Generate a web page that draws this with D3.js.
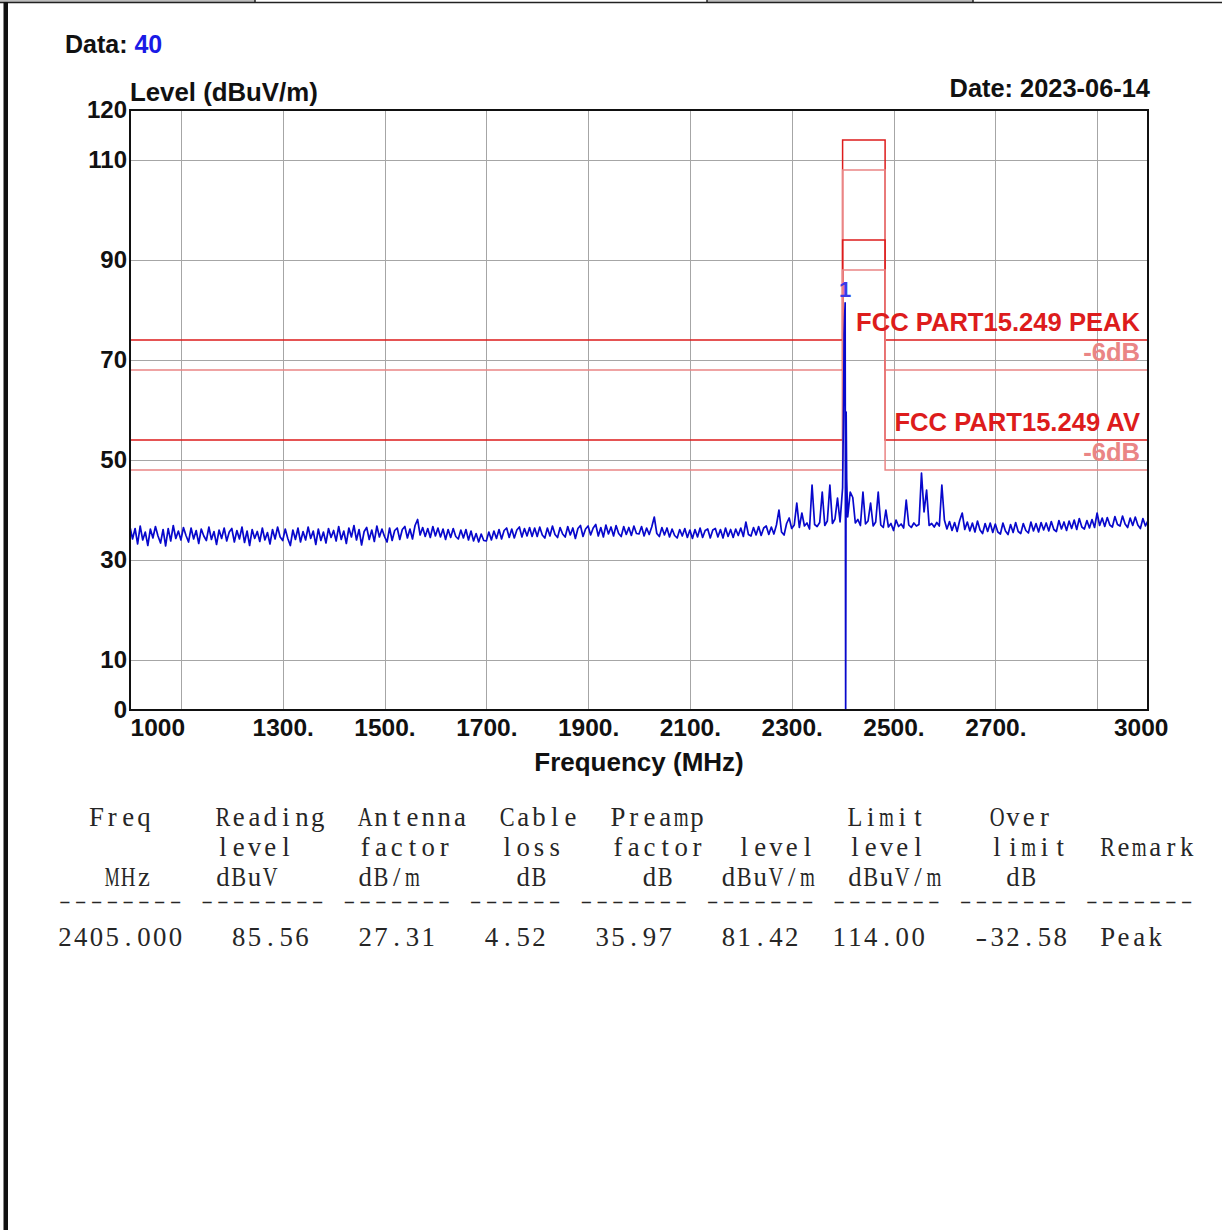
<!DOCTYPE html>
<html>
<head>
<meta charset="utf-8">
<script src="https://cdn.jsdelivr.net/npm/d3@7"></script>
<style>
  html, body { margin: 0; padding: 0; background: #fff; }
  svg { display: block; }
</style>
</head>
<body>
<svg id="chart" width="1222" height="1230"></svg>
<script>
// ---- Sweep data: 1000-3000 MHz, 5 MHz step, level in dBuV/m ----
const sweepStartMHz = 1000;
const sweepStepMHz = 5;
const traceLevels = [
  // 1000
  36.6, 34.2, 36.3, 33.2, 36.8, 34.0, 35.6, 32.9, 36.2, 34.4, 36.7, 34.8, 33.4, 36.1, 32.8, 36.3, 33.8, 36.9, 34.3, 35.8,
  // 1100
  34.0, 36.5, 34.9, 33.6, 36.4, 34.2, 35.9, 33.3, 36.2, 34.8, 33.9, 36.6, 34.1, 35.7, 33.1, 36.0, 34.3, 36.4, 33.8, 35.6,
  // 1200
  36.3, 33.6, 35.9, 34.2, 36.6, 33.5, 35.8, 32.9, 36.1, 34.3, 35.7, 33.7, 36.4, 34.0, 35.5, 33.2, 36.1, 34.2, 36.6, 34.6,
  // 1300
  33.9, 36.2, 34.3, 32.9, 36.0, 34.1, 36.4, 33.6, 35.7, 34.0, 36.6, 34.3, 35.8, 33.1, 36.2, 33.9, 35.6, 33.4, 36.3, 34.5,
  // 1400
  35.9, 33.8, 36.7, 34.1, 35.8, 33.3, 36.4, 34.6, 36.9, 34.0, 36.1, 33.0, 35.7, 36.5, 34.1, 36.0, 33.7, 36.8, 34.6, 36.2,
  // 1500
  34.7, 33.6, 36.4, 33.9, 35.9, 36.4, 34.1, 36.1, 36.7, 34.4, 36.2, 34.2, 36.9, 38.1, 35.0, 36.5, 34.7, 36.3, 34.5, 36.7,
  // 1600
  34.8, 36.4, 34.6, 36.2, 34.1, 36.1, 34.5, 36.3, 34.7, 34.2, 36.0, 34.4, 36.1, 34.0, 35.8, 33.8, 35.3, 33.6, 35.2, 33.9,
  // 1700
  33.8, 35.6, 34.0, 35.8, 34.3, 36.1, 34.2, 35.9, 36.4, 34.5, 36.2, 34.4, 36.0, 36.6, 34.6, 36.3, 34.8, 36.5, 34.7, 36.4,
  // 1800
  34.7, 36.6, 35.0, 34.4, 36.4, 34.8, 36.8, 35.1, 34.5, 36.5, 35.2, 34.6, 36.7, 35.0, 36.4, 34.3, 36.3, 36.9, 34.7, 36.2,
  // 1900
  36.8, 35.0, 36.4, 37.1, 34.8, 36.5, 34.6, 37.0, 35.2, 36.6, 34.8, 36.9, 35.3, 34.7, 36.7, 35.1, 36.5, 34.9, 36.8, 35.3,
  // 2000
  35.2, 36.7, 34.8, 36.4, 35.1, 36.6, 38.6, 35.3, 34.7, 36.5, 35.0, 36.4, 34.6, 36.2, 34.9, 34.4, 36.1, 34.8, 36.3, 34.5,
  // 2100
  36.0, 34.3, 36.1, 34.6, 36.4, 34.5, 35.9, 36.2, 34.4, 36.0, 36.3, 34.6, 36.1, 34.4, 36.4, 34.7, 36.1, 34.5, 36.2, 34.9,
  // 2200
  36.4, 34.7, 37.6, 35.1, 34.8, 36.5, 35.0, 36.7, 34.9, 36.4, 36.8, 35.1, 36.6, 35.2, 37.0, 40.0, 35.6, 35.0, 37.3, 38.4,
  // 2300
  36.3, 37.0, 41.4, 36.5, 39.4, 36.8, 37.4, 36.2, 45.0, 37.1, 36.7, 37.5, 43.6, 36.9, 37.8, 45.0, 37.3, 38.2, 42.4, 37.6,
  // 2400
  44.4, 81.42, 38.6, 43.6, 42.5, 37.4, 38.1, 36.9, 43.6, 37.2, 37.8, 41.4, 36.8, 37.6, 43.6, 37.0, 36.5, 40.0, 36.6, 37.3,
  // 2500
  35.9, 38.0, 36.7, 37.2, 36.4, 42.0, 37.0, 36.5, 37.4, 36.8, 37.1, 47.4, 39.6, 44.0, 36.9, 37.3, 36.6, 37.5, 36.8, 45.0,
  // 2600
  38.0, 36.2, 37.7, 35.9, 37.5, 35.7, 37.9, 39.4, 36.1, 37.6, 35.8, 37.4, 35.6, 37.8, 36.0, 35.3, 37.3, 35.7, 37.4, 35.5,
  // 2700
  37.2, 35.6, 35.2, 37.4, 35.8, 35.1, 37.1, 35.5, 37.5, 35.7, 35.3, 37.3, 35.9, 35.4, 37.6, 35.8, 37.3, 35.6, 37.5, 36.0,
  // 2800
  37.4, 35.8, 37.7, 36.1, 35.7, 37.9, 36.2, 37.6, 35.9, 37.8, 36.3, 38.0, 36.1, 38.3, 36.6, 36.2, 37.9, 36.4, 38.1, 36.5,
  // 2900 .. 3000
  39.4, 36.9, 38.4, 36.7, 38.5, 37.0, 36.6, 38.7, 37.1, 36.8, 38.8, 37.2, 36.5, 38.4, 36.9, 38.6, 37.0, 36.3, 38.3, 36.8, 37.9
];
// finer samples around the carrier [MHz, dBuV/m]
const carrierDetail = [[2402, 62.0], [2403, 75.2], [2404, 78.6], [2406, 0], [2407, 59.6], [2408, 46.2]];

// marker 1
const markerFreq = 2405.000;
const markerLevel = 81.42;

// ---- Axes ----
const freqDomain = [1000, 3000];
const levelDomain = [0, 120];
const yTickValues = [0, 10, 30, 50, 70, 90, 110, 120];
const yGridValues = [10, 30, 50, 70, 90, 110];
const xTickValues = [1000, 1300, 1500, 1700, 1900, 2100, 2300, 2500, 2700, 3000];
const xGridValues = [1100, 1300, 1500, 1700, 1900, 2100, 2300, 2500, 2700, 2900];

// ---- Limit lines (restricted band 2400-2483.5 MHz) ----
const bandEdges = [2400, 2483.5];
const limitNames = ["FCC PART15.249 PEAK", "-6dB", "FCC PART15.249 AV", "-6dB"];
const limitOutside = [74, 68, 54, 48];
const limitInside = [114, 108, 94, 88];
const limitIsMargin = [false, true, false, true];

// ---- Header texts ----
const dataLabel = "Data:";
const dataNumber = "40";
const yTitle = "Level (dBuV/m)";
const xTitle = "Frequency (MHz)";
const dateLabel = "Date: 2023-06-14";

// ---- Result table ----
const headerRow1 = ["Freq", "Reading", "Antenna", "Cable", "Preamp", "Limit", "Over"];
const headerRow2 = ["level", "factor", "loss", "factor", "level", "level", "limit", "Remark"];
const headerRow3 = ["MHz", "dBuV", "dB/m", "dB", "dB", "dBuV/m", "dBuV/m", "dB"];
const resultRow = ["2405.000", "85.56", "27.31", "4.52", "35.97", "81.42", "114.00", "-32.58", "Peak"];

// fixed-pitch column layout (in characters)
const colsRow1 = [2, 10, 19, 28, 35, 50, 59];
const colsRow2 = [10, 19, 28, 35, 43, 50, 59, 66];
const colsRow3 = [3, 10, 19, 29, 37, 42, 50, 60];
const colsRule = [0, 9, 18, 26, 33, 41, 49, 57, 65];
const ruleWidths = [8, 8, 7, 6, 7, 7, 7, 7, 7];
const colsResult = [0, 11, 19, 27, 34, 42, 49, 58, 66];

// ================= drawing =================
const svg = d3.select("#chart");
const W = 1222, H = 1230;
const plot = { left: 130, right: 1148, top: 110, bottom: 710 };

const x = d3.scaleLinear().domain(freqDomain).range([plot.left, plot.right]);
const y = d3.scaleLinear().domain(levelDomain).range([plot.bottom, plot.top]);

const boldFont = "'Liberation Sans', Arial, sans-serif";

// page frame
svg.append("rect").attr("x", 0).attr("y", 0).attr("width", 255).attr("height", 2).attr("fill", "#bdbdbd");
svg.append("rect").attr("x", 707).attr("y", 0).attr("width", 266).attr("height", 2).attr("fill", "#bdbdbd");
svg.append("line").attr("x1", 0).attr("x2", W).attr("y1", 2.5).attr("y2", 2.5)
  .attr("stroke", "#222").attr("stroke-width", 1.5);
[255, 707, 973].forEach(px => {
  svg.append("line").attr("x1", px).attr("x2", px).attr("y1", 0).attr("y2", 3)
    .attr("stroke", "#222").attr("stroke-width", 1.5);
});
svg.append("rect").attr("x", 3.5).attr("y", 2).attr("width", 4.5).attr("height", H - 2).attr("fill", "#111");

// grid
const grid = svg.append("g").attr("stroke", "#a6a6a6").attr("stroke-width", 1);
grid.selectAll("line.h").data(yGridValues).join("line").attr("class", "h")
  .attr("x1", plot.left).attr("x2", plot.right)
  .attr("y1", d => Math.round(y(d)) + 0.5).attr("y2", d => Math.round(y(d)) + 0.5);
grid.selectAll("line.v").data(xGridValues).join("line").attr("class", "v")
  .attr("y1", plot.top).attr("y2", plot.bottom)
  .attr("x1", d => Math.round(x(d)) + 0.5).attr("x2", d => Math.round(x(d)) + 0.5);

// limit lines
const limitColor = "#dd1c1c";
const marginColor = "#ea8585";
const stepLine = d3.line().x(d => x(d[0])).y(d => y(d[1]));
limitNames.forEach((name, i) => {
  const out = limitOutside[i], inn = limitInside[i];
  const pts = [
    [freqDomain[0], out], [bandEdges[0], out], [bandEdges[0], inn],
    [bandEdges[1], inn], [bandEdges[1], out], [freqDomain[1], out]
  ];
  const col = limitIsMargin[i] ? marginColor : limitColor;
  svg.append("path").attr("d", stepLine(pts)).attr("fill", "none")
    .attr("stroke", col).attr("stroke-width", 1.5);
});

// trace
const tracePoints = traceLevels.map((v, i) => [sweepStartMHz + i * sweepStepMHz, v])
  .concat(carrierDetail)
  .sort((a, b) => a[0] - b[0]);
const traceLine = d3.line().x(d => x(d[0])).y(d => y(d[1]));
svg.append("path").attr("d", traceLine(tracePoints)).attr("fill", "none")
  .attr("stroke", "#0808cc").attr("stroke-width", 1.7).attr("stroke-linejoin", "round");

// limit labels
limitNames.forEach((name, i) => {
  svg.append("text").attr("x", 1140).attr("y", y(limitOutside[i]) - 9)
    .attr("text-anchor", "end")
    .attr("font-family", boldFont).attr("font-weight", "bold").attr("font-size", 25.6)
    .attr("fill", limitIsMargin[i] ? marginColor : limitColor)
    .text(name);
});

// marker label
svg.append("text").attr("x", x(markerFreq)).attr("y", y(markerLevel) - 6)
  .attr("text-anchor", "middle")
  .attr("font-family", boldFont).attr("font-weight", "bold").attr("font-size", 22)
  .attr("fill", "#3a3ae8").text("1");

// plot frame
svg.append("rect").attr("x", plot.left).attr("y", plot.top)
  .attr("width", plot.right - plot.left).attr("height", plot.bottom - plot.top)
  .attr("fill", "none").attr("stroke", "#111").attr("stroke-width", 2);

// y axis
const yAxis = d3.axisLeft(y).tickValues(yTickValues).tickSize(0).tickPadding(3).tickFormat(d3.format("d"));
const gy = svg.append("g").attr("transform", `translate(${plot.left},0)`).call(yAxis);
gy.select(".domain").remove();
gy.selectAll("text").attr("font-family", boldFont).attr("font-weight", "bold")
  .attr("font-size", 24).attr("fill", "#111");

// x axis
const xAxis = d3.axisBottom(x).tickValues(xTickValues).tickSize(0).tickPadding(9)
  .tickFormat(d => (d === freqDomain[0] || d === freqDomain[1]) ? String(d) : d + ".");
const gx = svg.append("g").attr("transform", `translate(0,${plot.bottom})`).call(xAxis);
gx.select(".domain").remove();
gx.selectAll("text").attr("font-family", boldFont).attr("font-weight", "bold")
  .attr("font-size", 24.5).attr("fill", "#111");
gx.selectAll(".tick").filter(d => d === freqDomain[0]).select("text").attr("text-anchor", "start");
gx.selectAll(".tick").filter(d => d === freqDomain[1]).select("text").attr("text-anchor", "end").attr("dx", 20);

// titles
const t1 = svg.append("text").attr("x", 65).attr("y", 53)
  .attr("font-family", boldFont).attr("font-weight", "bold").attr("font-size", 25).attr("fill", "#111");
t1.append("tspan").text(dataLabel + " ");
t1.append("tspan").attr("fill", "#1a1ae6").text(dataNumber);

svg.append("text").attr("x", plot.left).attr("y", 101)
  .attr("font-family", boldFont).attr("font-weight", "bold").attr("font-size", 25.8).attr("fill", "#111")
  .text(yTitle);
svg.append("text").attr("x", 1150).attr("y", 97).attr("text-anchor", "end")
  .attr("font-family", boldFont).attr("font-weight", "bold").attr("font-size", 25.4).attr("fill", "#111")
  .text(dateLabel);
svg.append("text").attr("x", (plot.left + plot.right) / 2).attr("y", 771).attr("text-anchor", "middle")
  .attr("font-family", boldFont).attr("font-weight", "bold").attr("font-size", 26).attr("fill", "#111")
  .text(xTitle);

// table: every character sits centred in its own fixed-pitch cell
const tableLeft = 57, pitch = 15.8;
const tableFont = "'Liberation Serif', 'DejaVu Serif', serif";
const table = svg.append("g").attr("font-family", tableFont).attr("fill", "#262626");
function tableRowText(cells, cols, baseline, size, weight) {
  cells.forEach((s, i) => {
    Array.from(s).forEach((ch, k) => {
      if (ch === " ") return;
      const cx = tableLeft + (cols[i] + k + 0.5) * pitch;
      const t = table.append("text").attr("x", cx).attr("y", baseline)
        .attr("font-size", size).attr("font-weight", weight)
        .attr("text-anchor", "middle").text(ch);
      const w = t.node().getComputedTextLength();
      const target = ch === "-" ? pitch * 0.74 : Math.min(w, pitch * 0.94);
      if (Math.abs(target - w) > 0.3) {
        t.attr("transform", `translate(${cx},0) scale(${target / w},1) translate(${-cx},0)`);
      }
    });
  });
}
tableRowText(headerRow1, colsRow1, 826, 26.8, "normal");
tableRowText(headerRow2, colsRow2, 856, 26.8, "normal");
tableRowText(headerRow3, colsRow3, 886, 26.8, "normal");
tableRowText(ruleWidths.map(n => "-".repeat(n)), colsRule, 907, 16, "bold");
tableRowText(resultRow, colsResult, 946, 26.8, "normal");
</script>
</body>
</html>
